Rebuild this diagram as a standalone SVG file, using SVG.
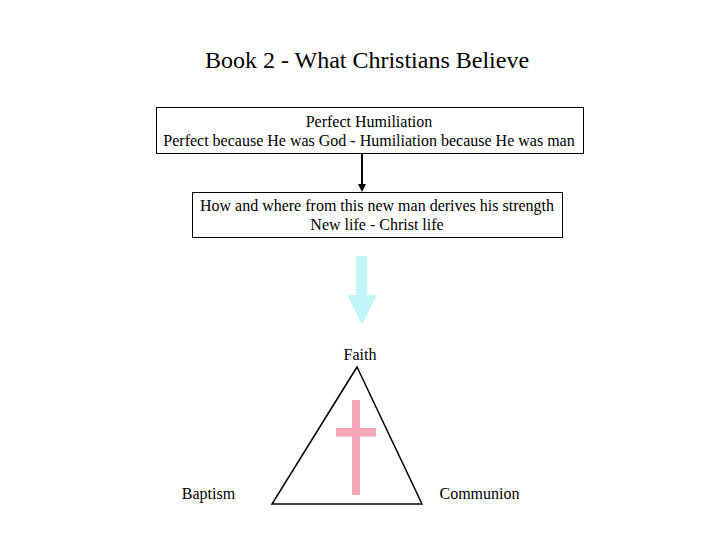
<svg xmlns="http://www.w3.org/2000/svg" width="720" height="540" viewBox="0 0 720 540" font-family="'Liberation Serif', 'Times New Roman', serif">
<defs>
<style>
.t{font-size:16px;text-anchor:middle;fill:#000}
.box{fill:#fff;stroke:#000;stroke-width:1}
</style>
<marker id="ah" markerWidth="8" markerHeight="8" refX="4" refY="4" orient="auto" markerUnits="userSpaceOnUse">
<path d="M0,0 L8,4 L0,8 Z" fill="#000"/>
</marker>
</defs>
<rect width="720" height="540" fill="#fff"/>
<text x="367" y="68" font-family="'Liberation Serif', serif" font-size="24" text-anchor="middle">Book 2 - What Christians Believe</text>
<g id="connectors">
<line x1="362" y1="154" x2="362" y2="188" stroke="#000" stroke-width="2" marker-end="url(#ah)"/>
<polygon points="356,256 367,256 367,295 377,295 362,325 347,295 356,295" fill="#bff7f7"/>
</g>
<g id="node1">
<rect class="box" x="156.5" y="107.5" width="427" height="46"/>
<text class="t" x="369" y="127" font-family="'Liberation Serif', serif">Perfect Humiliation</text>
<text class="t" x="369" y="146" font-family="'Liberation Serif', serif">Perfect because He was God - Humiliation because He was man</text>
</g>
<g id="node2">
<rect class="box" x="192.5" y="192.5" width="370" height="45"/>
<text class="t" x="377" y="211" font-family="'Liberation Serif', serif">How and where from this new man derives his strength</text>
<text class="t" x="377" y="230" font-family="'Liberation Serif', serif">New life - Christ life</text>
</g>
<g id="triangle">
<polygon points="357,367 272,504 422,504" fill="none" stroke="#000" stroke-width="1.5"/>
<rect x="352" y="400" width="8" height="95" fill="#f5a7b5"/>
<rect x="336" y="428" width="40" height="8.5" fill="#f5a7b5"/>
</g>
<g id="faith"><text class="t" x="360" y="360" font-family="'Liberation Serif', serif">Faith</text></g>
<g id="baptism"><text class="t" x="208.5" y="499" font-family="'Liberation Serif', serif">Baptism</text></g>
<g id="communion"><text class="t" x="479.5" y="499" font-family="'Liberation Serif', serif">Communion</text></g>
</svg>
